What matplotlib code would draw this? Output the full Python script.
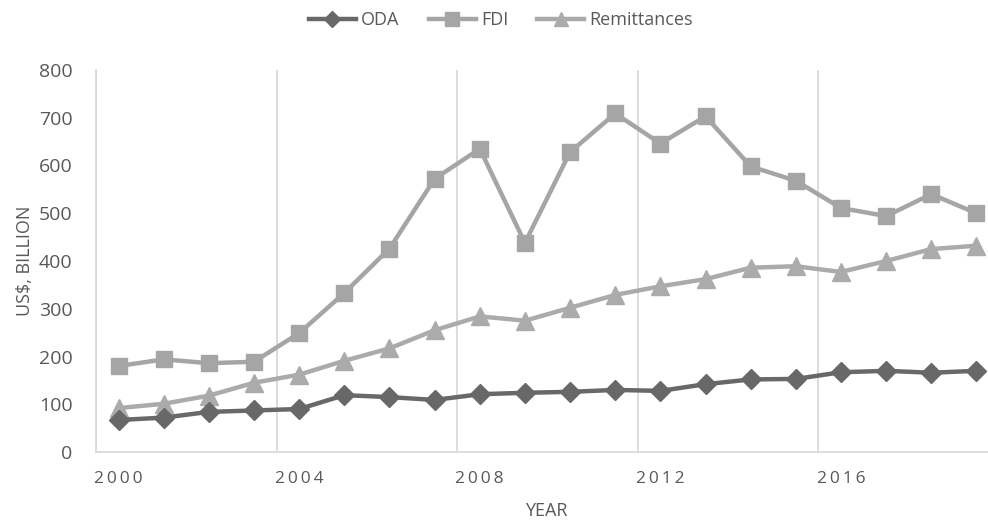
import matplotlib.pyplot as plt

years = list(range(2000, 2020))
oda = [67, 72, 84, 87, 90, 119, 115, 109, 121, 124, 126, 130, 128, 142, 152, 153, 167, 170, 166, 170]
fdi = [180, 194, 186, 189, 249, 333, 426, 572, 635, 438, 628, 709, 646, 703, 598, 568, 511, 494, 540, 500]
remit = [92, 101, 118, 145, 162, 191, 217, 255, 284, 275, 302, 329, 347, 362, 386, 389, 377, 400, 425, 432]
tick_years = [2000, 2004, 2008, 2012, 2016]

plt.rcParams['font.family'] = ['Open Sans', 'DejaVu Sans']

fig = plt.figure(figsize=(9.88, 5.22), dpi=100)
ax = fig.add_axes([96 / 988, 70 / 522, 903 / 988, 382 / 522])

x = list(range(len(years)))
ax.plot(x, oda, color='#686868', lw=3.2, marker='D', ms=10, label='ODA', zorder=5)
ax.plot(x, fdi, color='#a5a5a5', lw=3.2, marker='s', ms=12, label='FDI', zorder=4)
ax.plot(x, remit, color='#ababab', lw=3.2, marker='^', ms=13, label='Remittances', zorder=3)

ax.set_xlim(-0.5, len(years) - 0.5)
ax.set_ylim(0, 800)
ax.set_yticks(range(0, 801, 100))
ax.set_xticks([years.index(y) for y in tick_years])
# letter-spaced year labels, like the original
ax.set_xticklabels(['\u2009'.join(str(y)) for y in tick_years])
ax.set_xticks([i - 0.5 for i in range(0, len(years) + 1, 4)], minor=True)
ax.grid(axis='x', which='minor', color='#d9d9d9', lw=1.3)
ax.tick_params(axis='both', which='both', length=0, colors='#595959', labelsize=14)
ax.tick_params(axis='x', which='major', labelsize=12.5, pad=14)
ax.tick_params(axis='y', pad=17)

for s in ['top', 'right']:
    ax.spines[s].set_visible(False)
for s in ['left', 'bottom']:
    ax.spines[s].set_color('#d9d9d9')
    ax.spines[s].set_linewidth(1.3)

ax.set_ylabel('US$, BILLION', fontsize=13, color='#595959', labelpad=3)
fig.text(546 / 988, 1 - 511 / 522, 'YEAR', fontsize=13, color='#595959', ha='center', va='center')

fig.legend(loc='center', bbox_to_anchor=(501 / 988, 1 - 20 / 522), ncol=3, frameon=False,
           fontsize=13, handlelength=2.6, columnspacing=1.6, handletextpad=0.3,
           labelcolor='#595959', markerscale=0.8)

fig.savefig('out.png', dpi=100)
